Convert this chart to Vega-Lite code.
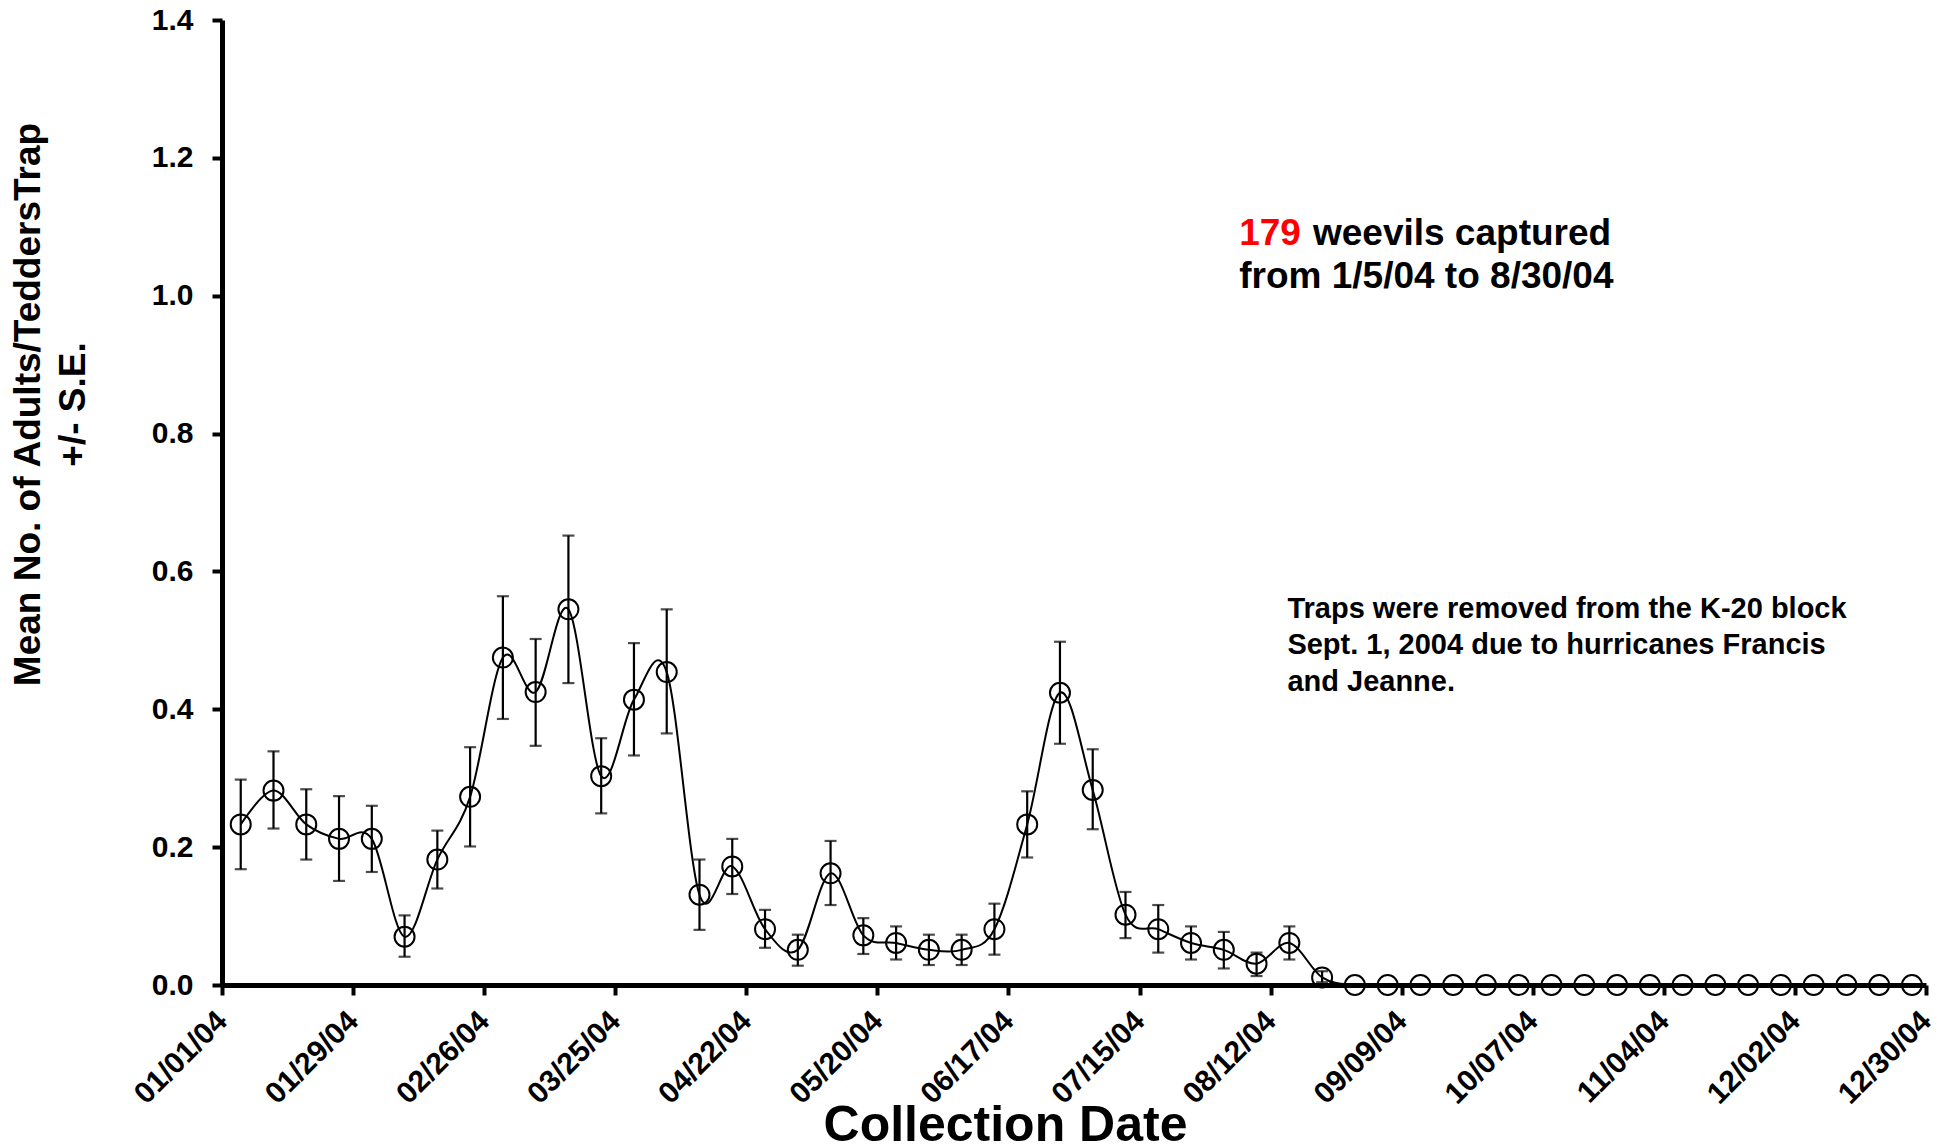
{
  "$schema": "https://vega.github.io/schema/vega-lite/v6.json",
  "width": 1704,
  "height": 965,
  "autosize": {"type": "none"},
  "padding": {"left": 222, "top": 20, "right": 18, "bottom": 159},
  "background": "white",
  "config": {
    "font": "Liberation Sans",
    "view": {"stroke": null},
    "axis": {
      "grid": false,
      "domainColor": "black",
      "domainWidth": 5,
      "tickColor": "black",
      "tickWidth": 4,
      "tickSize": 10,
      "labelColor": "black",
      "labelFont": "Liberation Sans",
      "labelFontWeight": "bold",
      "labelFontSize": 30,
      "titleColor": "black",
      "titleFont": "Liberation Sans",
      "titleFontWeight": "bold"
    }
  },
  "datasets": {
    "weekly": [
      {"date": "2004-01-05T00:00:00", "mean": 0.233, "lo": 0.168, "hi": 0.298},
      {"date": "2004-01-12T00:00:00", "mean": 0.282, "lo": 0.227, "hi": 0.339},
      {"date": "2004-01-19T00:00:00", "mean": 0.233, "lo": 0.182, "hi": 0.284},
      {"date": "2004-01-26T00:00:00", "mean": 0.212, "lo": 0.151, "hi": 0.274},
      {"date": "2004-02-02T00:00:00", "mean": 0.212, "lo": 0.164, "hi": 0.260},
      {"date": "2004-02-09T00:00:00", "mean": 0.070, "lo": 0.041, "hi": 0.101},
      {"date": "2004-02-16T00:00:00", "mean": 0.182, "lo": 0.140, "hi": 0.224},
      {"date": "2004-02-23T00:00:00", "mean": 0.273, "lo": 0.201, "hi": 0.345},
      {"date": "2004-03-01T00:00:00", "mean": 0.475, "lo": 0.386, "hi": 0.564},
      {"date": "2004-03-08T00:00:00", "mean": 0.425, "lo": 0.347, "hi": 0.502},
      {"date": "2004-03-15T00:00:00", "mean": 0.545, "lo": 0.438, "hi": 0.652},
      {"date": "2004-03-22T00:00:00", "mean": 0.303, "lo": 0.249, "hi": 0.358},
      {"date": "2004-03-29T00:00:00", "mean": 0.414, "lo": 0.333, "hi": 0.496},
      {"date": "2004-04-05T00:00:00", "mean": 0.454, "lo": 0.365, "hi": 0.545},
      {"date": "2004-04-12T00:00:00", "mean": 0.131, "lo": 0.080, "hi": 0.182},
      {"date": "2004-04-19T00:00:00", "mean": 0.172, "lo": 0.132, "hi": 0.212},
      {"date": "2004-04-26T00:00:00", "mean": 0.081, "lo": 0.054, "hi": 0.109},
      {"date": "2004-05-03T00:00:00", "mean": 0.051, "lo": 0.028, "hi": 0.073},
      {"date": "2004-05-10T00:00:00", "mean": 0.162, "lo": 0.116, "hi": 0.209},
      {"date": "2004-05-17T00:00:00", "mean": 0.072, "lo": 0.045, "hi": 0.097},
      {"date": "2004-05-24T00:00:00", "mean": 0.061, "lo": 0.037, "hi": 0.085},
      {"date": "2004-05-31T00:00:00", "mean": 0.051, "lo": 0.029, "hi": 0.073},
      {"date": "2004-06-07T00:00:00", "mean": 0.051, "lo": 0.029, "hi": 0.073},
      {"date": "2004-06-14T00:00:00", "mean": 0.081, "lo": 0.044, "hi": 0.118},
      {"date": "2004-06-21T00:00:00", "mean": 0.233, "lo": 0.185, "hi": 0.281},
      {"date": "2004-06-28T00:00:00", "mean": 0.424, "lo": 0.350, "hi": 0.498},
      {"date": "2004-07-05T00:00:00", "mean": 0.283, "lo": 0.226, "hi": 0.342},
      {"date": "2004-07-12T00:00:00", "mean": 0.102, "lo": 0.068, "hi": 0.135},
      {"date": "2004-07-19T00:00:00", "mean": 0.081, "lo": 0.047, "hi": 0.116},
      {"date": "2004-07-26T00:00:00", "mean": 0.061, "lo": 0.037, "hi": 0.085},
      {"date": "2004-08-02T00:00:00", "mean": 0.051, "lo": 0.024, "hi": 0.077},
      {"date": "2004-08-09T00:00:00", "mean": 0.031, "lo": 0.013, "hi": 0.047},
      {"date": "2004-08-16T00:00:00", "mean": 0.061, "lo": 0.037, "hi": 0.085},
      {"date": "2004-08-23T00:00:00", "mean": 0.011, "lo": 0.004, "hi": 0.020},
      {"date": "2004-08-30T00:00:00", "mean": 0, "lo": null, "hi": null},
      {"date": "2004-09-06T00:00:00", "mean": 0, "lo": null, "hi": null},
      {"date": "2004-09-13T00:00:00", "mean": 0, "lo": null, "hi": null},
      {"date": "2004-09-20T00:00:00", "mean": 0, "lo": null, "hi": null},
      {"date": "2004-09-27T00:00:00", "mean": 0, "lo": null, "hi": null},
      {"date": "2004-10-04T00:00:00", "mean": 0, "lo": null, "hi": null},
      {"date": "2004-10-11T00:00:00", "mean": 0, "lo": null, "hi": null},
      {"date": "2004-10-18T00:00:00", "mean": 0, "lo": null, "hi": null},
      {"date": "2004-10-25T00:00:00", "mean": 0, "lo": null, "hi": null},
      {"date": "2004-11-01T00:00:00", "mean": 0, "lo": null, "hi": null},
      {"date": "2004-11-08T00:00:00", "mean": 0, "lo": null, "hi": null},
      {"date": "2004-11-15T00:00:00", "mean": 0, "lo": null, "hi": null},
      {"date": "2004-11-22T00:00:00", "mean": 0, "lo": null, "hi": null},
      {"date": "2004-11-29T00:00:00", "mean": 0, "lo": null, "hi": null},
      {"date": "2004-12-06T00:00:00", "mean": 0, "lo": null, "hi": null},
      {"date": "2004-12-13T00:00:00", "mean": 0, "lo": null, "hi": null},
      {"date": "2004-12-20T00:00:00", "mean": 0, "lo": null, "hi": null},
      {"date": "2004-12-27T00:00:00", "mean": 0, "lo": null, "hi": null}
    ]
  },
  "encoding": {
    "x": {
      "field": "date",
      "type": "temporal",
      "scale": {
        "domain": [
          {"year": 2004, "month": 1, "date": 1},
          {"year": 2004, "month": 12, "date": 30}
        ]
      },
      "axis": {
        "values": [
          {"year": 2004, "month": 1, "date": 1},
          {"year": 2004, "month": 1, "date": 29},
          {"year": 2004, "month": 2, "date": 26},
          {"year": 2004, "month": 3, "date": 25},
          {"year": 2004, "month": 4, "date": 22},
          {"year": 2004, "month": 5, "date": 20},
          {"year": 2004, "month": 6, "date": 17},
          {"year": 2004, "month": 7, "date": 15},
          {"year": 2004, "month": 8, "date": 12},
          {"year": 2004, "month": 9, "date": 9},
          {"year": 2004, "month": 10, "date": 7},
          {"year": 2004, "month": 11, "date": 4},
          {"year": 2004, "month": 12, "date": 2},
          {"year": 2004, "month": 12, "date": 30}
        ],
        "format": "%m/%d/%y",
        "labelAngle": -45,
        "labelAlign": "right",
        "labelBaseline": "middle",
        "labelPadding": 21,
        "labelFlush": false,
        "labelOverlap": false,
        "title": "Collection Date",
        "titleFontSize": 50,
        "titleAlign": "center",
        "titleBaseline": "alphabetic",
        "titleX": 783,
        "titleY": 155
      }
    },
    "y": {
      "field": "mean",
      "type": "quantitative",
      "scale": {"domain": [0, 1.4], "nice": false, "zero": true},
      "axis": {
        "values": [0, 0.2, 0.4, 0.6, 0.8, 1.0, 1.2, 1.4],
        "format": ".1f",
        "labelPadding": 19,
        "title": ["Mean No. of Adults/TeddersTrap", "+/- S.E."],
        "titleFontSize": 37,
        "titleLineHeight": 45,
        "titleAngle": -90,
        "titleAlign": "center",
        "titleBaseline": "top",
        "titleX": -212,
        "titleY": 384
      }
    }
  },
  "layer": [
    {
      "data": {"name": "weekly"},
      "mark": {"type": "line", "color": "black", "strokeWidth": 2, "interpolate": "cardinal"}
    },
    {
      "data": {"name": "weekly"},
      "transform": [{"filter": "datum.lo != null"}],
      "mark": {"type": "rule", "color": "black", "strokeWidth": 2.2},
      "encoding": {"y": {"field": "lo", "type": "quantitative"}, "y2": {"field": "hi"}}
    },
    {
      "data": {"name": "weekly"},
      "transform": [{"filter": "datum.lo != null"}],
      "mark": {"type": "tick", "orient": "horizontal", "color": "black", "size": 12, "thickness": 2.2},
      "encoding": {"y": {"field": "lo", "type": "quantitative"}}
    },
    {
      "data": {"name": "weekly"},
      "transform": [{"filter": "datum.hi != null"}],
      "mark": {"type": "tick", "orient": "horizontal", "color": "black", "size": 12, "thickness": 2.2},
      "encoding": {"y": {"field": "hi", "type": "quantitative"}}
    },
    {
      "data": {"name": "weekly"},
      "mark": {"type": "point", "shape": "circle", "filled": false, "color": "black", "strokeWidth": 2, "size": 400, "opacity": 1}
    },
    {
      "data": {"values": [{"date": "2004-08-05T07:00:00", "mean": 1.074, "label": "179"}]},
      "mark": {"type": "text", "align": "left", "baseline": "alphabetic", "fontSize": 37, "fontWeight": "bold", "color": "#ff0000"},
      "encoding": {"text": {"field": "label"}}
    },
    {
      "data": {"values": [
        {"date": "2004-08-21T01:00:00", "mean": 1.074, "label": "weevils captured"},
        {"date": "2004-08-05T07:00:00", "mean": 1.0116, "label": "from 1/5/04 to 8/30/04"}
      ]},
      "mark": {"type": "text", "align": "left", "baseline": "alphabetic", "fontSize": 37, "fontWeight": "bold", "color": "black"},
      "encoding": {"text": {"field": "label"}}
    },
    {
      "data": {"values": [
        {"date": "2004-08-15T14:00:00", "mean": 0.533, "label": "Traps were removed from the K-20 block\nSept. 1, 2004 due to hurricanes Francis\nand Jeanne."}
      ]},
      "mark": {"type": "text", "align": "left", "baseline": "alphabetic", "fontSize": 29, "fontWeight": "bold", "color": "black", "lineBreak": "\n", "lineHeight": 36.5},
      "encoding": {"text": {"field": "label"}}
    }
  ]
}
